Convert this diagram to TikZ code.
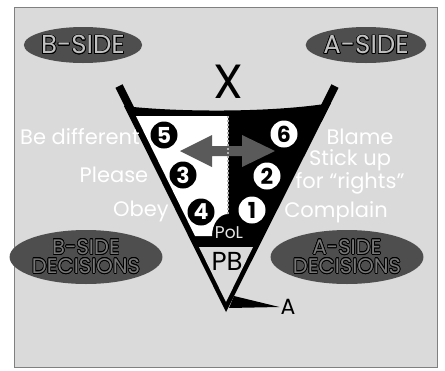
\documentclass[tikz,border=0pt]{standalone}
\usepackage{fontspec}
\setmainfont{Poppins}
\usepackage{tikz}
\usetikzlibrary{shapes.geometric}
\usepackage[copies]{contour}
\usepackage{xcolor}
\definecolor{PanelGray}{RGB}{218,218,218}
\definecolor{SideGray}{RGB}{78,78,78}
\definecolor{SideText}{RGB}{192,192,192}
\definecolor{DecText}{RGB}{118,118,118}
\definecolor{ArrowGray}{RGB}{90,90,90}
\contourlength{0.7pt}
\newcommand{\outlined}[2]{\contour{black}{\textcolor{#1}{#2}}}

\begin{document}
\begin{tikzpicture}[x=1pt,y=-1pt,
side/.style={ellipse,fill=SideGray,minimum width=90pt,minimum height=36pt,inner sep=0pt,
font=\fontsize{26}{26}\selectfont},
decision/.style={ellipse,fill=SideGray,minimum width=108pt,minimum height=54pt,inner sep=0pt,
align=center,font=\fontsize{21}{19}\selectfont},
label/.style={text=white,inner sep=0pt,font=\fontsize{21}{21}\selectfont},
numb/.style={circle,fill=black,text=white,minimum size=27pt,inner sep=0pt,
font=\fontsize{22}{22}\selectfont\bfseries},
numw/.style={numb,fill=white,text=black}
]
\useasboundingbox (0,0) rectangle (445,370);
\fill[PanelGray,draw=gray] (14,7) rectangle (437,367);

% the four sides
\node[side] (bside) at (83,45) {\outlined{SideText}{B-SIDE}};
\node[side] (aside) at (366,45) {\outlined{SideText}{A-SIDE}};
\node[decision] (bdec) at (86,257) {\outlined{DecText}{B-SIDE}\\\outlined{DecText}{DECISIONS}};
\node[decision] (adec) at (347,257) {\outlined{DecText}{A-SIDE}\\\outlined{DecText}{DECISIONS}};

% funnel
\fill (124,106) .. controls (175,112) and (270,113) .. (331,103) -- (226,312) -- cycle;
\draw[line width=8pt] (119,86) -- (138,124);
\draw[line width=8pt] (335,86) -- (318,120);
\fill[white] (136,116) -- (228,116) -- (228,214) .. controls (219,214) and (212,224) .. (212,236)
  -- (195,236) -- cycle;
\fill[PanelGray] (199,247) -- (253,247) -- (226,302) -- cycle;
\fill[ArrowGray] (180,151) -- (212,135) -- (212,146) -- (242,146) -- (242,135) -- (275,151)
  -- (242,167) -- (242,156) -- (212,156) -- (212,167) -- cycle;
\draw[gray!60,line width=2pt,dash pattern=on 2pt off 2pt] (228,116) -- (228,214);

% steps
\node[numb] (n5) at (164,135) {5};
\node[numb] (n3) at (183,175) {3};
\node[numb] (n4) at (201,212) {4};
\node[numw] (n6) at (284,134) {6};
\node[numw] (n2) at (267,176) {2};
\node[numw] (n1) at (252,210) {1};

\node[label] (diff) at (80,137) {Be different};
\node[label] (please) at (114,175) {Please};
\node[label] (obey) at (141,211) {Obey};
\node[label] (blame) at (360,137) {Blame};
\node[label,align=center] (stick) at (350,172) {Stick up\\for “rights”};
\node[label] (compl) at (336,212) {Complain};

\node[font=\fontsize{48}{48}\selectfont] (x) at (228,82) {X};
\node[text=gray!20,inner sep=0pt,font=\fontsize{17}{17}\selectfont] (pol) at (229,233) {PoL};
\node[inner sep=0pt,font=\fontsize{26}{26}\selectfont] (pb) at (227,261) {PB};
\node[inner sep=1pt,font=\fontsize{22}{22}\selectfont] (a) at (288,307) {A};
\fill (234,296) -- (a.west) -- (229,308) -- cycle;
\end{tikzpicture}
\end{document}
